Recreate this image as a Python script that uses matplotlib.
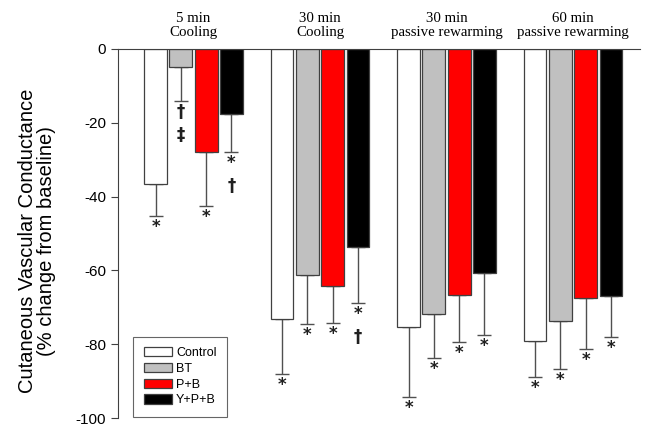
import numpy as np
import matplotlib.pyplot as plt

# Conditions (top labels) and treatment groups
conditions = ["5 min\nCooling", "30 min\nCooling", "30 min\npassive rewarming", "60 min\npassive rewarming"]
groups = ["Control", "BT", "P+B", "Y+P+B"]
colors = ["white", "#c0c0c0", "#ff0000", "black"]

# Mean % change from baseline, per group (one value per condition)
means = {
    "Control": [-36.6, -73.2, -75.3, -79.1],
    "BT":      [-4.9, -61.2, -71.8, -73.7],
    "P+B":     [-27.9, -64.2, -66.7, -67.5],
    "Y+P+B":   [-17.6, -53.7, -60.7, -66.9],
}
# Lower end of error bars
err_low = {
    "Control": [-45.3, -88.0, -94.3, -88.9],
    "BT":      [-14.1, -74.5, -83.7, -86.7],
    "P+B":     [-42.5, -74.3, -79.4, -81.3],
    "Y+P+B":   [-27.9, -68.8, -77.5, -78.0],
}
# Significance marks under each bar
marks = {
    "Control": [["*"], ["*"], ["*"], ["*"]],
    "BT":      [["\u2020", "\u2021"], ["*"], ["*"], ["*"]],
    "P+B":     [["*"], ["*"], ["*"], ["*"]],
    "Y+P+B":   [["*", "\u2020"], ["*", "\u2020"], ["*"], ["*"]],
}

fig = plt.figure(figsize=(6.54, 4.36), dpi=100)
ax = fig.add_axes([118 / 654, 1 - 418 / 436, (640 - 118) / 654, (418 - 49) / 436])

x = np.arange(len(conditions))
offsets = [-0.3, -0.1, 0.1, 0.3]
width = 0.18
ecol = "#505050"

for g, off, c in zip(groups, offsets, colors):
    xs = x + off
    m = np.array(means[g])
    lo = np.array(err_low[g])
    ax.bar(xs, m, width, color=c, edgecolor="#404040", linewidth=0.9, label=g, zorder=2)
    ax.errorbar(xs, m, yerr=[m - lo, np.zeros_like(m)], fmt="none", ecolor=ecol,
                elinewidth=1.0, capsize=5, capthick=1.0, zorder=1)
    for xi, l, syms in zip(xs, lo, marks[g]):
        for k, s in enumerate(syms):
            ax.text(xi, l - 3.0 - k * 6.2, s, ha="center", va="center", fontsize=12,
                    fontweight="bold", family="DejaVu Sans", color="#202020")

for xi, lab in zip(x, conditions):
    ax.text(xi, 2.8, lab, ha="center", va="bottom", fontsize=10.7, family="Liberation Serif",
            linespacing=1.1, clip_on=False)

ax.set_xlim(-0.597, 3.53)
ax.set_ylim(-100, 0)
ax.set_yticks([0, -20, -40, -60, -80, -100])
ax.set_yticklabels(["0", "-20", "-40", "-60", "-80", "-100"], fontsize=11, family="Liberation Sans")
ax.tick_params(axis="y", direction="out", length=5, width=0.8, color="#404040")
ax.set_xticks([])
ax.spines["right"].set_visible(False)
ax.spines["bottom"].set_visible(False)
ax.spines["top"].set_color("#404040")
ax.spines["left"].set_color("#404040")
ax.set_ylabel("Cutaneous Vascular Conductance\n(% change from baseline)", fontsize=14.5,
              family="Liberation Sans", linespacing=1.05)
ax.yaxis.set_label_coords(-0.118, 0.48)

leg = ax.legend(loc="lower left", bbox_to_anchor=((133 - 118) / 522, (418 - 417) / 369),
                prop={"family": "Liberation Sans", "size": 9},
                fancybox=False, edgecolor="#404040", handlelength=2.3, handleheight=0.75,
                labelspacing=0.3, borderpad=0.85, handletextpad=0.3, borderaxespad=0)
leg.get_frame().set_linewidth(0.8)

fig.savefig("out.png", dpi=100)
